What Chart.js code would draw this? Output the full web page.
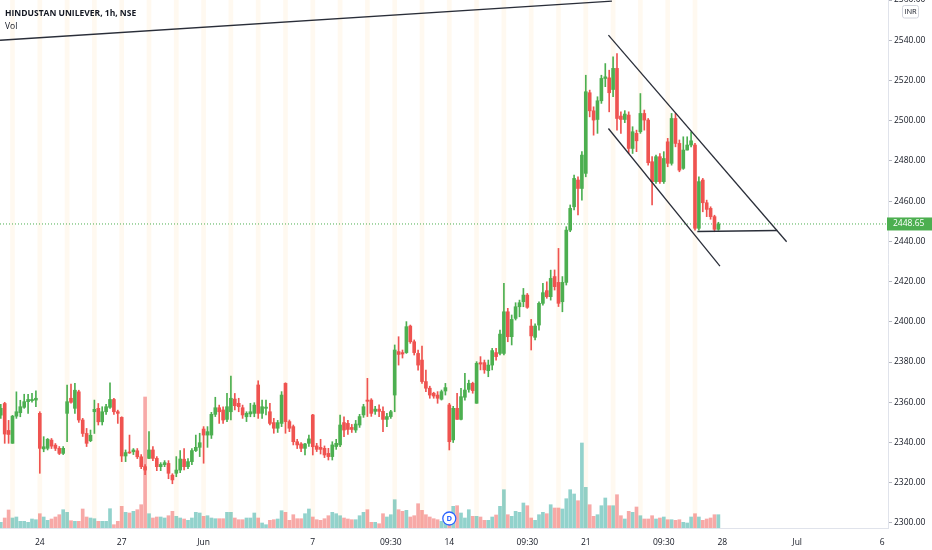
<!DOCTYPE html>
<html>
<head>
<meta charset="utf-8">
<title>HINDUSTAN UNILEVER, 1h, NSE</title>
<style>
  html, body { margin: 0; padding: 0; background: #ffffff; }
  canvas { display: block; }
</style>
<script src="https://cdn.jsdelivr.net/npm/chart.js@4.4.1/dist/chart.umd.min.js"></script>
</head>
<body>
<canvas id="grafico" width="932" height="550"></canvas>
<script>
//---------------------------- dados (1h candles) ----------------------------

const opens = [2353.6, 2359.4, 2346, 2339.6, 2353.1, 2354.8, 2357.5, 2360.3, 2360.8, 2361.1,
  2354.5, 2336.8, 2337.1, 2341.2, 2338.7, 2337.1, 2334.6, 2354.5, 2362, 2357,
  2365.2, 2351.2, 2344.5, 2340.9, 2355.3, 2357, 2350.3, 2355.3, 2357.5, 2361.4,
  2355.3, 2352.5, 2333.3, 2335.2, 2335.4, 2335.9, 2332.9, 2328, 2332.1, 2336.3,
  2332.1, 2328, 2329, 2329.6, 2323.8, 2324.7, 2326.3, 2331.7, 2328, 2330.5,
  2336, 2337.6, 2346.7, 2343.7, 2343.7, 2354, 2357.3, 2356.2, 2351.5, 2355.3,
  2361.6, 2359.5, 2357.3, 2352.8, 2354.2, 2354.5, 2368.6, 2354.5, 2357, 2355.3,
  2349.9, 2347.1, 2349.5, 2369.4, 2350.4, 2347.9, 2340.4, 2339.3, 2337.1, 2339.6,
  2353.7, 2338.3, 2337.6, 2337.1, 2334.6, 2333, 2338, 2338.8, 2349.9, 2349.5,
  2347.5, 2346.2, 2348.7, 2353.7, 2361.1, 2361.1, 2355.5, 2356.6, 2355.5, 2351.5,
  2352.9, 2363.6, 2385.2, 2384.7, 2384.7, 2397.9, 2390.1, 2384.3, 2381, 2370.3,
  2367, 2364.5, 2363.6, 2361.5, 2365.6, 2358.7, 2341.3, 2357, 2351.5, 2362.5,
  2366.4, 2369.4, 2359.5, 2379.7, 2379.7, 2375.7, 2378.5, 2384.7, 2384.3, 2384.3,
  2405, 2392.6, 2401.7, 2407.5, 2410, 2413.3, 2397.9, 2392.3, 2398.4, 2409.2,
  2415.5, 2412.5, 2422.5, 2419.6, 2410, 2419.6, 2445.6, 2457.2, 2470.5, 2466.3,
  2473.8, 2513.9, 2504.9, 2500.6, 2509.9, 2521, 2521.3, 2515.5, 2526, 2502.3,
  2500.6, 2502.8, 2486.2, 2493.7, 2494.5, 2503.6, 2500.3, 2479.6, 2469.7, 2482.1,
  2469.7, 2489.5, 2478.8, 2501.1, 2488.7, 2476.3, 2485.4, 2487.9, 2487.9, 2446.5,
  2470.5, 2459.2, 2456.4, 2452.3, 2446];

const highs = [2359, 2360, 2351, 2353.5, 2365.2, 2361, 2364, 2364, 2364.4, 2365.7,
  2355.3, 2342.9, 2342, 2342, 2339.5, 2338, 2338, 2368.5, 2369, 2369.4,
  2366, 2352, 2347, 2346.2, 2361.1, 2359.4, 2357.8, 2359, 2369.7, 2362,
  2356.1, 2352.8, 2336.3, 2343.7, 2337, 2337, 2334, 2329, 2345.4, 2338,
  2333, 2330, 2331, 2331, 2324.5, 2333, 2336, 2337, 2332, 2337,
  2343.7, 2344.6, 2347.9, 2347.9, 2355, 2362.5, 2358.6, 2357.8, 2364.4, 2373,
  2364.4, 2362, 2358.6, 2355.3, 2359.5, 2359.8, 2370.7, 2361.1, 2361.1, 2359.5,
  2352, 2351, 2365.3, 2369.7, 2351.2, 2348.7, 2341.6, 2340, 2339.6, 2343.7,
  2354, 2339.6, 2341.6, 2338.3, 2337.1, 2340.4, 2341.6, 2353.7, 2352.8, 2351,
  2349, 2351, 2354, 2359, 2371.9, 2361.8, 2358, 2358.7, 2357.8, 2354.5,
  2356, 2388.5, 2392.6, 2386, 2400.1, 2398.4, 2391, 2386, 2388, 2376,
  2368, 2365, 2365.3, 2366.1, 2369.4, 2359.5, 2358, 2364.5, 2366.9, 2374.4,
  2371, 2370, 2380.2, 2382.7, 2381, 2381, 2386.8, 2386.8, 2395.9, 2419.1,
  2406.7, 2403.4, 2409.5, 2410.8, 2416.6, 2414.1, 2401.2, 2399, 2410, 2419.1,
  2419.9, 2425.7, 2425.8, 2436.5, 2422.5, 2447.3, 2458.1, 2473, 2472.1, 2484.6,
  2522.6, 2515.2, 2506.9, 2511.9, 2522.6, 2528.4, 2525.1, 2531.8, 2533.4, 2504.4,
  2505, 2504.4, 2497, 2495.3, 2513.5, 2505.3, 2501.1, 2482.1, 2482.9, 2483.7,
  2484.6, 2491.2, 2503.6, 2503.6, 2490.4, 2492, 2492, 2494.5, 2488.7, 2472.1,
  2471.3, 2460.5, 2457.2, 2453, 2449.5];

const lows = [2352, 2339.6, 2339.6, 2339.6, 2352, 2352.8, 2357, 2354.5, 2360, 2357.8,
  2324.7, 2335.4, 2336.3, 2337, 2336, 2334, 2334, 2340.4, 2359.5, 2354.5,
  2350, 2343, 2338, 2340.4, 2344.5, 2348.7, 2348.7, 2354, 2357, 2354,
  2349.5, 2330.5, 2330.5, 2334.6, 2334, 2332, 2327, 2324, 2332, 2331,
  2326, 2326, 2328, 2322, 2319.5, 2323, 2325, 2326.4, 2327, 2329,
  2335.5, 2333, 2329.7, 2337.6, 2342, 2352.9, 2349.5, 2349.5, 2350.4, 2351.2,
  2356.2, 2355.3, 2352, 2350.4, 2352.8, 2352.8, 2352, 2352, 2353.7, 2348.7,
  2344.6, 2345, 2347.9, 2344.6, 2345.4, 2338.8, 2337, 2335.4, 2333.8, 2338,
  2333.8, 2335.5, 2334.3, 2332.5, 2331.3, 2331.3, 2336.6, 2337.9, 2342.9, 2344,
  2345, 2345, 2347.5, 2352.5, 2352.9, 2353, 2354, 2352.9, 2345.4, 2347.9,
  2352, 2355.3, 2378.5, 2382, 2384.3, 2389.3, 2383.5, 2376, 2369.4, 2365.3,
  2362, 2362, 2359.5, 2361.1, 2363.6, 2336.3, 2340, 2351.5, 2351.2, 2361.1,
  2365, 2364.5, 2359.5, 2376.1, 2374.4, 2372.7, 2376.1, 2381, 2383.5, 2383.5,
  2390.1, 2388.5, 2400.9, 2402.5, 2407.5, 2406.7, 2386, 2391, 2395.9, 2408.3,
  2411.7, 2410.8, 2415.8, 2407.6, 2405, 2418.3, 2444.8, 2455.6, 2453.1, 2460.5,
  2472.1, 2501.9, 2492.8, 2493.7, 2508.6, 2516.9, 2504.4, 2512, 2495.3, 2493.7,
  2499, 2483.7, 2483.7, 2484.6, 2493.7, 2495.3, 2477.9, 2458.1, 2468.8, 2468.8,
  2468.8, 2477.1, 2477.9, 2487, 2474.6, 2475.8, 2485.4, 2487, 2445.6, 2445.6,
  2454.7, 2452.3, 2451, 2444.8, 2445.5];

const closes = [2357, 2344.2, 2344, 2353.1, 2355.3, 2357.8, 2360.3, 2361.4, 2361.4, 2362,
  2337.1, 2337.9, 2341.6, 2338.2, 2337.1, 2334.6, 2337.1, 2360.3, 2360, 2366,
  2351.2, 2344.5, 2339.6, 2343.6, 2356.5, 2350.3, 2355.3, 2357.8, 2361.4, 2355.3,
  2354.5, 2333.3, 2335, 2334.8, 2336.3, 2332.9, 2328, 2326.3, 2336.3, 2332.1,
  2328, 2329.1, 2330, 2324.7, 2321.4, 2326.3, 2331.8, 2328, 2330.5, 2336,
  2337.6, 2339.9, 2343.7, 2345.4, 2354, 2357.3, 2355.3, 2351.2, 2357.8, 2362,
  2358.3, 2357.8, 2353.7, 2354.5, 2355.3, 2358.6, 2354.5, 2357.8, 2357.6, 2349.5,
  2347.1, 2349.9, 2363.6, 2350.4, 2347.1, 2340.4, 2338.8, 2337.1, 2339.3, 2341.8,
  2337.9, 2336.6, 2336.6, 2333.8, 2333, 2338.8, 2339.6, 2348.7, 2346.2, 2346.5,
  2346.5, 2349.2, 2352.9, 2357.8, 2360.5, 2354.5, 2356.6, 2355.5, 2351.5, 2352.9,
  2355.3, 2386, 2383.8, 2384, 2397.6, 2390.1, 2384.7, 2378.5, 2370.3, 2367,
  2363.6, 2363.1, 2362, 2365.3, 2367.3, 2340.4, 2357, 2351.5, 2362.8, 2366.1,
  2369.4, 2365.8, 2379.4, 2379, 2376.1, 2378.5, 2385.7, 2382.7, 2393.9, 2405,
  2392.6, 2401.2, 2407.5, 2409.5, 2413.3, 2407.2, 2393, 2397.9, 2409.2, 2414.5,
  2412.5, 2421.6, 2417.5, 2409.2, 2419.6, 2445.6, 2456.4, 2471.3, 2466.3, 2482.9,
  2514.4, 2504.9, 2500.3, 2509.9, 2521, 2521.8, 2513.9, 2526, 2501.1, 2500.6,
  2503.3, 2486.2, 2494.5, 2490, 2503.6, 2500.3, 2479.1, 2469.7, 2482.1, 2469.7,
  2481.2, 2478.8, 2501.1, 2488.7, 2475.4, 2485.4, 2487.9, 2490, 2446.5, 2469.7,
  2459.2, 2455.9, 2452.3, 2446, 2448.65];

// volume, thousand shares (no scale on the picture, relative heights only)
const volumes = [57, 100, 180, 100, 110, 67, 67, 57, 90, 83,
  143, 110, 77, 90, 110, 133, 183, 157, 73, 67,
  67, 190, 110, 100, 93, 67, 67, 67, 193, 33,
  67, 217, 157, 150, 167, 183, 233, 1310, 143, 100,
  110, 110, 100, 123, 167, 117, 100, 90, 77, 100,
  157, 150, 117, 123, 100, 93, 93, 93, 157, 157,
  100, 83, 83, 100, 100, 150, 100, 50, 33, 77,
  83, 90, 173, 157, 77, 133, 93, 93, 143, 190,
  110, 83, 77, 93, 123, 157, 143, 123, 100, 90,
  83, 83, 123, 157, 183, 57, 57, 43, 143, 110,
  133, 283, 183, 167, 177, 110, 123, 243, 177, 133,
  110, 93, 83, 67, 67, 150, 217, 223, 150, 100,
  183, 117, 117, 110, 77, 77, 110, 130, 217, 383,
  133, 117, 167, 157, 250, 223, 100, 77, 133, 157,
  143, 233, 200, 200, 190, 293, 383, 340, 273, 850,
  407, 233, 117, 133, 223, 300, 223, 223, 333, 123,
  90, 167, 157, 210, 123, 90, 90, 123, 90, 100,
  110, 83, 83, 77, 83, 57, 50, 110, 143, 110,
  77, 90, 100, 133, 133];

// first bar of every session (vertical session marks)
const dayStarts = [3, 10, 17, 24, 31, 38, 45, 52, 59, 66, 73, 80, 87, 94, 101, 108, 115,
  122, 129, 136, 143, 150, 157, 164, 171, 178];

// time axis labels and the bar slot they sit on
const xTickPos = [10, 31, 52, 80, 100, 115, 135, 150, 170, 185, 204.2, 226];
const xTickText = ["24", "27", "Jun", "7", "09:30", "14", "09:30", "21", "09:30", "28", "Jul", "6"];

const priceTicks = [2300, 2320, 2340, 2360, 2380, 2400, 2420, 2440, 2460, 2480, 2500, 2520, 2540, 2560];

// hand drawn lines: [bar, price, bar, price]
const drawings = [
  [-0.2, 2540, 156.7, 2559.4],
  [155.8, 2542.5, 201.5, 2439.8],
  [155.8, 2496.1, 184.4, 2427.7],
  [178.6, 2444.9, 199.1, 2445.4]
];

const dividendBar = 115;

//---------------------------- cores ----------------------------

const up = "#4caf50";
const down = "#ef5350";
const upVol = "rgba(38, 166, 154, 0.5)";
const downVol = "rgba(239, 83, 80, 0.5)";
const xMin = -0.205;
const xMax = 227.49;

function isUp(i) {
  return closes[i] >= opens[i];
}

Chart.defaults.font.family = "'Open Sans', sans-serif";
Chart.defaults.font.size = 8.5;
Chart.defaults.color = "#131722";

const lastClose = closes[closes.length - 1];

let lineSets = drawings.map(d => ({
  type: "line",
  data: [{x: d[0], y: d[1]}, {x: d[2], y: d[3]}],
  borderColor: "#2a2e39",
  borderWidth: 1.3,
  pointRadius: 0,
  yAxisID: "y",
  order: 1
}));

//---------------------------- textos extra ----------------------------

const extras = {
  id: "extras",
  afterDraw(chart) {
    const ctx = chart.ctx;
    const ys = chart.scales.y;
    const xs = chart.scales.x;
    ctx.save();

    ctx.fillStyle = "#131722";
    ctx.textAlign = "left";
    ctx.textBaseline = "alphabetic";
    ctx.font = "bold 8.5px 'Open Sans'";
    ctx.fillText("HINDUSTAN UNILEVER, 1h, NSE", 5, 16);
    ctx.font = "8.5px 'Open Sans'";
    ctx.fillText("Vol", 5, 29);

    // currency box
    ctx.fillStyle = "#ffffff";
    ctx.strokeStyle = "#d1d4dc";
    ctx.lineWidth = 1;
    ctx.beginPath();
    ctx.roundRect(902.5, 5.5, 16, 12.5, 2);
    ctx.fill();
    ctx.stroke();
    ctx.fillStyle = "#131722";
    ctx.font = "7.5px 'Open Sans'";
    ctx.textAlign = "center";
    ctx.textBaseline = "middle";
    ctx.fillText("INR", 910.5, 12);

    // last price tag
    const py = ys.getPixelForValue(lastClose);
    ctx.fillStyle = up;
    ctx.fillRect(887, py - 6.5, 45, 13);
    ctx.fillStyle = "#ffffff";
    ctx.font = "8.5px 'Open Sans'";
    ctx.textAlign = "left";
    ctx.fillText(lastClose.toFixed(2), 893, py);

    // dividend mark
    const dx = xs.getPixelForValue(dividendBar);
    ctx.beginPath();
    ctx.arc(dx, 518.5, 6.5, 0, Math.PI * 2);
    ctx.fillStyle = "#ffffff";
    ctx.fill();
    ctx.strokeStyle = "#2962ff";
    ctx.lineWidth = 1.3;
    ctx.stroke();
    ctx.fillStyle = "#2962ff";
    ctx.font = "bold 7.5px 'Open Sans'";
    ctx.textAlign = "center";
    ctx.fillText("D", dx, 519);

    ctx.restore();
  }
};

//---------------------------- gráfico ----------------------------

let grafico = new Chart(document.getElementById("grafico"), {
  type: "bar",
  data: {
    datasets: [
      {
        label: "sessions",
        data: dayStarts.map(i => ({x: i, y: 1})),
        backgroundColor: "rgba(255, 200, 110, 0.1)",
        barThickness: 4,
        grouped: false,
        yAxisID: "band",
        order: 10
      },
      {
        label: "Vol",
        data: volumes.map((v, i) => ({x: i, y: v})),
        backgroundColor: ctx => isUp(ctx.dataIndex) ? upVol : downVol,
        barThickness: 3,
        grouped: false,
        yAxisID: "vol",
        order: 9
      },
      {
        type: "line",
        label: "last",
        data: [{x: xMin, y: lastClose}, {x: xMax, y: lastClose}],
        borderColor: up,
        borderWidth: 1,
        borderDash: [1, 2],
        pointRadius: 0,
        yAxisID: "y",
        order: 8
      },
      {
        label: "wicks",
        data: lows.map((l, i) => ({x: i, y: [l, highs[i]]})),
        backgroundColor: ctx => isUp(ctx.dataIndex) ? up : down,
        barThickness: 1,
        grouped: false,
        yAxisID: "y",
        order: 3
      },
      {
        label: "bodies",
        data: opens.map((o, i) => ({x: i, y: [o, closes[i]]})),
        backgroundColor: ctx => isUp(ctx.dataIndex) ? up : down,
        barThickness: 3,
        minBarLength: 1,
        grouped: false,
        yAxisID: "y",
        order: 2
      },
      ...lineSets
    ]
  },
  options: {
    responsive: false,
    animation: false,
    layout: { padding: 0 },
    plugins: {
      legend: { display: false },
      tooltip: { enabled: false }
    },
    scales: {
      x: {
        type: "linear",
        min: xMin,
        max: xMax,
        offset: false,
        grid: { display: false },
        border: { display: true, color: "#e0e3eb" },
        ticks: {
          autoSkip: false,
          maxRotation: 0,
          padding: 1,
          color: "#131722",
          callback: (v, i) => xTickText[i]
        },
        afterBuildTicks: s => { s.ticks = xTickPos.map(v => ({value: v})); },
        afterFit: s => { s.height = 22; s.paddingLeft = 0; s.paddingRight = 0; }
      },
      y: {
        type: "linear",
        position: "right",
        min: 2297.5,
        max: 2560,
        grid: { drawOnChartArea: false, tickLength: 4, color: "#b2b5be" },
        border: { display: true, color: "#e0e3eb" },
        ticks: {
          padding: 2,
          color: "#131722",
          callback: v => v.toFixed(2)
        },
        afterBuildTicks: s => { s.ticks = priceTicks.map(v => ({value: v})); },
        afterFit: s => { s.width = 44; s.paddingTop = 0; s.paddingBottom = 0; }
      },
      vol: {
        type: "linear",
        display: false,
        min: 0,
        max: 5280
      },
      band: {
        type: "linear",
        display: false,
        min: 0,
        max: 1
      }
    }
  },
  plugins: [extras]
});
</script>
</body>
</html>
